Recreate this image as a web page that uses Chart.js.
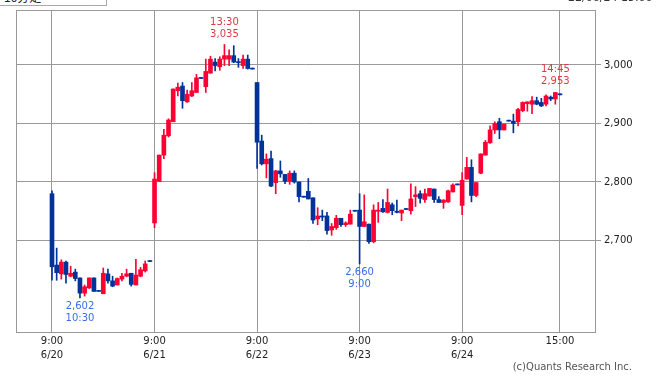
<!DOCTYPE html>
<html>
<head>
<meta charset="utf-8">
<script src="https://cdn.jsdelivr.net/npm/chart.js@4.4.1/dist/chart.umd.min.js"></script>
<style>
  html,body{margin:0;padding:0;background:#fff;}
  #wrap{position:relative;width:666px;height:381px;overflow:hidden;}
  #c{position:absolute;left:0;top:0;}
  #sel{position:absolute;left:-1px;top:-12px;width:108px;height:18px;border:1px solid #a8a8a8;background:#fff;
       font:12px "Noto Sans CJK JP",sans-serif;color:#222;box-sizing:border-box;padding-left:4px;line-height:16px;}
  #sel span{position:absolute;right:6px;top:0;font-size:9px;}
  #stamp{position:absolute;left:568px;top:-9px;font:11px "DejaVu Sans",sans-serif;color:#333;}
</style>
</head>
<body>
<div id="wrap">
  <canvas id="c" width="666" height="381"></canvas>
  <div id="sel">10分足<span>▼</span></div>
  <div id="stamp">22/06/24 15:00</div>
</div>
<script>
// ---- data ----
const days = ['6/20','6/21','6/22','6/23','6/24'];
const slots = ['9:00','9:15','9:30','9:45','10:00','10:15','10:30','10:45','11:00','11:15','11:30',
               '12:30','12:45','13:00','13:15','13:30','13:45','14:00','14:15','14:30','14:45','15:00'];

const open = [
  2780,2658,2643,2663,2639,2646,2636,2610,2619,2636,2613,2609,2643,2631,2624,2634,2639,2644,2624,2639,2648,2664,
  2730,2801,2846,2879,2903,2956,2964,2937,2947,2953,2977,2963,2986,3005,2997,3010,3010,3016,3005,2999,3010,2993,
  2970,2870,2831,2840,2799,2819,2813,2801,2815,2800,2774,2784,2773,2737,2742,2742,2718,2722,2738,2727,2728,2750,
  2752,2724,2728,2698,2750,2755,2748,2761,2750,2747,2753,2751,2775,2780,2770,2776,2788,2770,2765,2766,2783,2795,
  2760,2805,2825,2777,2815,2846,2867,2889,2903,2889,2904,2904,2903,2922,2934,2933,2939,2936,2933,2945,2942,2949
];
const high = [
  2785,2687,2667,2665,2656,2651,2636,2624,2636,2636,2613,2653,2651,2639,2636,2644,2651,2644,2668,2654,2665,2664,
  2816,2846,2890,2908,2959,2969,2970,2957,2970,2984,2977,3010,3015,3011,3014,3035,3026,3033,3011,3017,3017,2993,
  2970,2880,2848,2853,2820,2836,2813,2819,2819,2800,2774,2806,2773,2756,2752,2748,2729,2743,2738,2732,2752,2750,
  2780,2778,2728,2761,2765,2770,2788,2764,2769,2752,2753,2797,2792,2785,2788,2789,2788,2775,2770,2786,2797,2795,
  2816,2842,2838,2799,2848,2871,2896,2903,2909,2899,2904,2916,2926,2937,2937,2946,2945,2943,2949,2947,2953,2949
];
const low = [
  2632,2632,2634,2627,2638,2631,2602,2605,2618,2613,2613,2609,2627,2621,2624,2631,2638,2622,2624,2638,2646,2664,
  2722,2801,2840,2877,2903,2947,2926,2936,2946,2953,2977,2953,2986,2990,2991,2999,2999,3004,2996,2994,2993,2993,
  2823,2829,2807,2792,2780,2808,2797,2796,2798,2766,2774,2771,2729,2727,2734,2711,2709,2719,2724,2724,2728,2750,
  2660,2724,2695,2696,2731,2748,2747,2744,2747,2734,2753,2745,2758,2764,2765,2776,2765,2765,2755,2765,2783,2795,
  2744,2805,2766,2775,2814,2846,2866,2883,2874,2889,2904,2884,2896,2920,2921,2917,2932,2929,2930,2939,2933,2949
];
const close = [
  2655,2645,2663,2642,2644,2635,2610,2621,2636,2613,2613,2644,2631,2622,2635,2639,2643,2625,2641,2650,2660,2664,
  2805,2846,2880,2906,2959,2962,2939,2950,2956,2978,2977,2989,3010,2999,3010,3016,3016,3005,3004,3010,2994,2993,
  2868,2831,2839,2793,2819,2814,2801,2815,2800,2775,2774,2771,2735,2742,2740,2717,2724,2738,2727,2730,2745,2750,
  2724,2732,2698,2752,2752,2749,2765,2751,2748,2752,2753,2771,2778,2772,2780,2789,2770,2765,2769,2785,2795,2795,
  2803,2825,2777,2799,2848,2868,2889,2900,2889,2899,2904,2900,2924,2936,2937,2939,2933,2930,2947,2942,2953,2949
];

const yTicks = [2700, 2800, 2900, 3000];
const xTickDays = ['6/20','6/21','6/22','6/23','6/24'];
const xTickTimes = ['9:00','9:00','9:00','9:00','9:00','15:00'];

// highlighted extremes
const markDays  = ['6/21','6/20','6/23','6/24'];
const markSlots = ['13:30','10:30','9:00','14:45'];
const markKinds = ['high','low','low','high'];

// ---- build ----
const N = slots.length;
const idx = (d, s) => days.indexOf(d) * N + slots.indexOf(s);
const xs = open.map((_, i) => i);
const up = open.map((o, i) => close[i] > o);
const RED = '#ff0033', BLUE = '#003399';
const colors = up.map(u => u ? RED : BLUE);

const xTickPos = xTickTimes.map((t, i) => i < xTickDays.length ? idx(xTickDays[i], t) : idx(days[days.length - 1], t));
const xTickText = xTickTimes.map((t, i) => i < xTickDays.length ? [t, xTickDays[i]] : [t]);

const fmt = v => v.toLocaleString('en-US');
const FONT = "'DejaVu Sans', sans-serif";
Chart.defaults.font.family = FONT;
Chart.defaults.font.size = 10;

const framePlugin = {
  id: 'frame',
  afterDraw(chart) {
    const { ctx, chartArea: a, scales } = chart;
    ctx.save();
    ctx.strokeStyle = '#999';
    ctx.lineWidth = 1;
    ctx.strokeRect(Math.round(a.left) + 0.5, Math.round(a.top) + 0.5,
                   Math.round(a.right) - Math.round(a.left), Math.round(a.bottom) - Math.round(a.top));
    // extreme labels
    ctx.font = '10px ' + FONT;
    ctx.textAlign = 'center';
    ctx.textBaseline = 'alphabetic';
    markDays.forEach((d, i) => {
      const k = idx(d, markSlots[i]);
      const px = scales.x.getPixelForValue(k);
      if (markKinds[i] === 'high') {
        const py = scales.y.getPixelForValue(high[k]);
        ctx.fillStyle = '#dd3a44';
        ctx.fillText(fmt(high[k]), px, py - 8);
        ctx.fillText(markSlots[i], px, py - 20);
      } else {
        const py = scales.y.getPixelForValue(low[k]);
        ctx.fillStyle = '#3a6ce8';
        ctx.fillText(fmt(low[k]), px, py + 11);
        ctx.fillText(markSlots[i], px, py + 23);
      }
    });
    ctx.fillStyle = '#555';
    ctx.textAlign = 'right';
    ctx.fillText('(c)Quants Research Inc.', 632, 370);
    ctx.restore();
  }
};

new Chart(document.getElementById('c'), {
  type: 'bar',
  data: {
    datasets: [
      {
        label: 'wick',
        data: xs.map(i => ({ x: i, y: [low[i], high[i]] })),
        backgroundColor: colors,
        barThickness: 1,
        minBarLength: 1,
        grouped: false,
        borderWidth: 0
      },
      {
        label: 'body',
        data: xs.map(i => ({ x: i, y: [open[i], close[i]] })),
        backgroundColor: colors,
        barThickness: 4,
        minBarLength: 1,
        grouped: false,
        borderWidth: 0
      }
    ]
  },
  options: {
    responsive: false,
    animation: false,
    events: [],
    layout: { padding: { left: 16, top: 10, right: 0, bottom: 0 } },
    plugins: { legend: { display: false }, tooltip: { enabled: false } },
    scales: {
      x: {
        type: 'linear',
        offset: false,
        min: -7.724,
        max: 116.51,
        afterBuildTicks: s => { s.ticks = xTickPos.map(v => ({ value: v })); },
        afterFit: s => { s.height = 49; },
        ticks: {
          autoSkip: false,
          maxRotation: 0,
          padding: 2,
          color: '#222',
          font: { size: 10, lineHeight: 1.4 },
          callback: (v) => { const j = xTickPos.indexOf(v); return j >= 0 ? xTickText[j] : ''; }
        },
        grid: { color: '#999', lineWidth: 1, drawTicks: false, offset: false },
        border: { display: true, color: '#999' }
      },
      y: {
        type: 'linear',
        position: 'right',
        min: 2543.6,
        max: 3094.0,
        afterBuildTicks: s => { s.ticks = yTicks.map(v => ({ value: v })); },
        afterFit: s => { s.width = 71; },
        ticks: {
          padding: 3,
          color: '#222',
          font: { size: 10 },
          callback: v => fmt(v)
        },
        grid: { color: '#999', lineWidth: 1, drawTicks: true, tickLength: 6 },
        border: { display: true, color: '#999' }
      }
    }
  },
  plugins: [framePlugin]
});
</script>
</body>
</html>
